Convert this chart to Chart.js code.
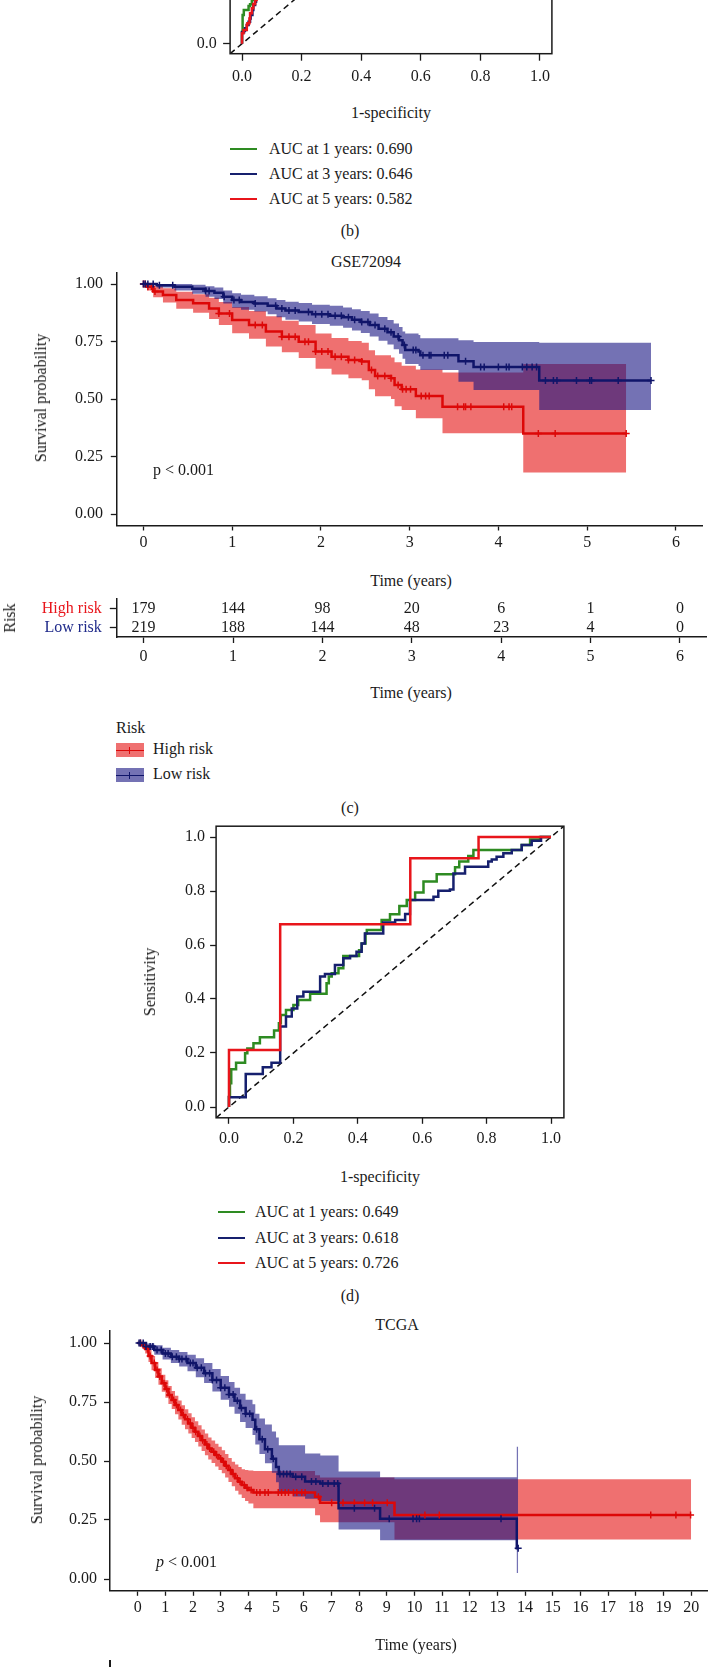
<!DOCTYPE html>
<html><head><meta charset="utf-8">
<script src="https://cdn.jsdelivr.net/npm/chart.js@4.4.1/dist/chart.umd.min.js"></script>
<style>
html,body{margin:0;padding:0;background:#fff;}
body{width:708px;height:1667px;position:relative;overflow:hidden;font-family:'Liberation Serif','Times New Roman',serif;color:#1a1a1a;}
canvas{position:absolute;left:0;}
.t{position:absolute;white-space:nowrap;font-size:16px;line-height:16px;}
.k{position:absolute;}
</style></head><body>
<script>
// ---------------- DATA ----------------
// ROC (b): [1-specificity, sensitivity] corners (visible lower part only)
const rocB_1y = [[0,0],[0.002,0.048],[0.006,0.115],[0.022,0.135],[0.027,0.151],[0.033,0.158],[0.036,0.175],[0.04,0.2]];
const rocB_3y = [[0,0],[0.007,0.046],[0.010,0.052],[0.016,0.062],[0.022,0.075],[0.027,0.088],[0.029,0.101],[0.035,0.115],[0.038,0.135],[0.044,0.155],[0.047,0.168],[0.052,0.2]];
const rocB_5y = [[0,0],[0.005,0.042],[0.016,0.055],[0.018,0.075],[0.025,0.082],[0.027,0.101],[0.033,0.122],[0.038,0.142],[0.044,0.159],[0.049,0.175],[0.056,0.2]];
const rocB_legend = ['AUC at 1 years: 0.690','AUC at 3 years: 0.646','AUC at 5 years: 0.582'];

// ROC (d)
const rocD_1y = [[0,0],[0.003,0.038],[0.007,0.088],[0.022,0.140],[0.050,0.164],[0.057,0.199],[0.076,0.217],[0.096,0.236],[0.140,0.258],[0.155,0.283],[0.161,0.310],[0.177,0.341],[0.200,0.359],[0.215,0.378],[0.252,0.396],[0.303,0.419],[0.310,0.458],[0.319,0.483],[0.340,0.495],[0.355,0.514],[0.404,0.559],[0.412,0.581],[0.424,0.606],[0.428,0.643],[0.474,0.656],[0.500,0.693],[0.529,0.714],[0.552,0.744],[0.578,0.767],[0.604,0.794],[0.645,0.835],[0.702,0.862],[0.715,0.888],[0.743,0.909],[0.759,0.930],[0.909,0.952],[0.935,0.970],[0.966,0.991],[1,1]];
const rocD_3y = [[0,0],[0.052,0.036],[0.105,0.122],[0.132,0.147],[0.159,0.164],[0.177,0.298],[0.195,0.335],[0.212,0.365],[0.231,0.409],[0.283,0.427],[0.298,0.483],[0.329,0.493],[0.355,0.526],[0.376,0.551],[0.396,0.559],[0.412,0.575],[0.422,0.606],[0.479,0.643],[0.516,0.683],[0.547,0.693],[0.562,0.715],[0.635,0.767],[0.650,0.779],[0.686,0.801],[0.697,0.806],[0.733,0.865],[0.805,0.890],[0.816,0.909],[0.831,0.917],[0.852,0.927],[0.878,0.940],[0.909,0.952],[0.940,0.970],[0.969,0.986],[1,1]];
const rocD_5y = [[0,0],[0.159,0.211],[0.563,0.677],[0.775,0.921],[1,1]];
const rocD_legend = ['AUC at 1 years: 0.649','AUC at 3 years: 0.618','AUC at 5 years: 0.726'];
const rocTicks = [0,0.2,0.4,0.6,0.8,1.0];
const rocTickLabels = ['0.0','0.2','0.4','0.6','0.8','1.0'];

// GSE72094 Kaplan-Meier
const gseHighTime  = [0,0.04,0.11,0.22,0.37,0.56,0.74,0.85,1.0,1.19,1.38,1.56,1.75,1.94,2.12,2.31,2.46,2.54,2.61,2.79,2.83,2.91,3.07,3.37,4.28,5.44];
const gseHighSurv  = [1,0.988,0.967,0.952,0.93,0.916,0.894,0.872,0.843,0.822,0.793,0.771,0.749,0.707,0.684,0.67,0.663,0.626,0.6,0.59,0.561,0.542,0.513,0.466,0.35,0.35];
const gseHighUpper = [1,1.0,0.99,0.982,0.966,0.955,0.94,0.922,0.9,0.883,0.86,0.84,0.822,0.785,0.765,0.752,0.745,0.712,0.69,0.68,0.66,0.645,0.628,0.615,0.652,0.652];
const gseHighLower = [1,0.972,0.942,0.92,0.892,0.875,0.848,0.822,0.786,0.762,0.728,0.703,0.678,0.632,0.606,0.59,0.582,0.542,0.512,0.5,0.468,0.452,0.416,0.351,0.18,0.18];
const gseHighCensor = [0,0.02,0.05,0.09,0.13,0.85,0.97,1.26,1.34,1.56,1.64,1.71,1.82,1.86,1.94,2.01,2.08,2.16,2.23,2.31,2.38,2.46,2.57,2.64,2.72,2.79,2.87,2.92,2.96,3.01,3.13,3.18,3.22,3.54,3.61,3.63,3.69,4.06,4.12,4.15,4.45,4.64,5.44];

const gseLowTime  = [0,0.15,0.35,0.55,0.7,0.8,0.9,1.0,1.1,1.25,1.4,1.5,1.6,1.75,1.9,2.1,2.25,2.35,2.45,2.55,2.65,2.75,2.82,2.88,2.92,2.95,3.1,3.12,3.55,3.72,4.46,5.72];
const gseLowSurv  = [1,0.995,0.988,0.979,0.97,0.962,0.945,0.93,0.922,0.915,0.905,0.893,0.885,0.878,0.868,0.862,0.855,0.845,0.835,0.822,0.805,0.79,0.772,0.755,0.735,0.713,0.706,0.69,0.664,0.639,0.58,0.58];
const gseLowUpper = [1,1.0,1.0,0.997,0.99,0.985,0.972,0.96,0.953,0.947,0.938,0.93,0.923,0.917,0.91,0.905,0.898,0.89,0.883,0.872,0.857,0.843,0.828,0.813,0.793,0.785,0.778,0.764,0.755,0.748,0.745,0.745];
const gseLowLower = [1,0.985,0.972,0.958,0.945,0.935,0.915,0.897,0.888,0.88,0.868,0.855,0.845,0.837,0.826,0.819,0.81,0.798,0.787,0.772,0.753,0.737,0.716,0.697,0.675,0.652,0.644,0.626,0.575,0.539,0.452,0.452];
const gseLowCensor = [0,0.02,0.05,0.11,0.18,0.33,0.70,0.74,0.91,1.02,1.08,1.26,1.49,1.56,1.64,1.71,1.86,1.94,2.01,2.08,2.16,2.23,2.31,2.38,2.46,2.53,2.61,2.72,2.79,2.87,2.94,3.04,3.07,3.15,3.22,3.24,3.39,3.43,3.63,3.80,3.84,4.0,4.09,4.12,4.27,4.32,4.38,4.43,4.53,4.62,4.66,4.88,5.03,5.05,5.35,5.72];

const gseXTicks = [0,1,2,3,4,5,6];
const gseXTickLabels = ['0','1','2','3','4','5','6'];
const kmYTicks = [0,0.25,0.5,0.75,1];
const kmYTickLabels = ['0.00','0.25','0.50','0.75','1.00'];

// number at risk (GSE72094)
const riskGroups = ['High risk','Low risk'];
const riskTimes = [0,1,2,3,4,5,6];
const riskHigh = [179,144,98,20,6,1,0];
const riskLow  = [219,188,144,48,23,4,0];

// TCGA Kaplan-Meier
const tcgaHighTime  = [0,0.15,0.27,0.39,0.5,0.63,0.75,0.87,1.0,1.11,1.23,1.35,1.47,1.59,1.71,1.83,1.95,2.07,2.19,2.31,2.43,2.55,2.67,2.8,2.92,3.04,3.16,3.28,3.4,3.52,3.64,3.76,3.88,4.0,4.18,6.41,6.59,9.28,20.0];
const tcgaHighSurv  = [1,0.99,0.975,0.945,0.915,0.886,0.858,0.829,0.805,0.78,0.758,0.737,0.716,0.695,0.677,0.659,0.641,0.624,0.606,0.588,0.57,0.553,0.539,0.525,0.511,0.497,0.48,0.462,0.445,0.427,0.412,0.398,0.387,0.377,0.366,0.349,0.323,0.271,0.271];
const tcgaHighUpper = [1,1.0,0.99,0.97,0.945,0.92,0.893,0.865,0.842,0.818,0.797,0.776,0.756,0.736,0.719,0.702,0.685,0.668,0.651,0.634,0.616,0.6,0.587,0.573,0.56,0.546,0.53,0.513,0.497,0.485,0.475,0.465,0.462,0.46,0.458,0.44,0.43,0.423,0.423];
const tcgaHighLower = [1,0.98,0.955,0.92,0.885,0.852,0.823,0.793,0.768,0.742,0.72,0.698,0.676,0.654,0.635,0.616,0.597,0.58,0.561,0.542,0.524,0.506,0.491,0.477,0.462,0.448,0.43,0.411,0.393,0.374,0.358,0.343,0.331,0.32,0.30,0.27,0.24,0.167,0.167];
const tcgaHighCensor = [0.1,0.2,0.35,0.45,0.6,0.7,0.8,0.95,1.05,1.15,1.3,1.4,1.55,1.65,1.8,1.9,2.0,2.1,2.25,2.35,2.5,2.6,2.75,2.85,3.0,3.1,3.2,3.35,3.45,3.6,3.7,3.85,3.95,4.1,4.3,4.42,4.6,4.72,5.08,5.2,5.33,5.45,5.63,5.75,5.93,6.05,6.53,7.01,7.42,7.83,8.2,8.49,9.02,10.38,10.9,18.54,19.45,19.98];

const tcgaLowTime  = [0,0.3,0.6,0.9,1.2,1.5,1.8,2.1,2.4,2.7,3.0,3.3,3.5,3.7,3.9,4.15,4.25,4.4,4.6,4.85,5.0,5.1,5.6,6.05,6.6,7.26,8.76,13.7,13.75];
const tcgaLowSurv  = [1,0.985,0.97,0.955,0.942,0.932,0.915,0.895,0.872,0.843,0.81,0.782,0.755,0.725,0.70,0.675,0.635,0.592,0.55,0.51,0.475,0.445,0.433,0.413,0.405,0.30,0.255,0.13,0.13];
const tcgaLowUpper = [1,0.998,0.99,0.98,0.97,0.962,0.95,0.935,0.915,0.89,0.86,0.835,0.81,0.785,0.76,0.74,0.70,0.68,0.655,0.625,0.60,0.567,0.567,0.532,0.523,0.455,0.431,0.56,0.56];
const tcgaLowLower = [1,0.97,0.95,0.93,0.915,0.90,0.88,0.855,0.83,0.795,0.76,0.73,0.70,0.665,0.64,0.61,0.57,0.53,0.49,0.45,0.41,0.37,0.35,0.34,0.33,0.21,0.164,0.025,0.025];
const tcgaLowCensor = [0.05,0.1,0.2,0.3,0.45,0.55,0.7,0.85,1.0,1.1,1.25,1.4,1.5,1.6,1.75,1.9,2.0,2.15,2.3,2.45,2.6,2.7,2.85,3.0,3.15,3.3,3.45,3.6,3.75,3.9,4.05,4.3,4.5,4.7,4.9,5.14,5.27,5.39,5.51,5.71,5.93,6.28,6.44,6.69,6.88,7.1,7.23,7.83,8.56,9.09,9.95,10.08,10.18,13.13,13.75];

const tcgaXTicks = [0,1,2,3,4,5,6,7,8,9,10,11,12,13,14,15,16,17,18,19,20];
const tcgaXTickLabels = tcgaXTicks.map(String);

// ---------------- STYLE ----------------
const FONT = "'Liberation Serif','Times New Roman',serif";
const INK = '#1a1a1a';
const C_GREEN = '#2E8B22', C_NAVY = '#16206E', C_RED = '#E8151B';
const KM_RED = '#DD0808', KM_NAVY = '#10156A';
const BAND_RED = 'rgba(227,0,0,0.56)', BAND_NAVY = 'rgba(23,20,130,0.6)';

Chart.defaults.font.family = FONT;
Chart.defaults.font.size = 16;
Chart.defaults.color = INK;
Chart.defaults.animation = false;
Chart.defaults.responsive = false;
Chart.defaults.maintainAspectRatio = false;
Chart.defaults.devicePixelRatio = 1;
Chart.defaults.events = [];

function makeCanvas(top, width, height){
  const c = document.createElement('canvas');
  c.width = width; c.height = height;
  c.style.top = top+'px'; c.style.width = width+'px'; c.style.height = height+'px';
  document.body.appendChild(c);
  return c;
}
function linScale(min, max, ticks, labels, tickLen, pad, border){
  return {type:'linear', min, max,
    afterBuildTicks: s => { s.ticks = ticks.map(v => ({value:v})); },
    ticks:{callback:(v,i)=>labels[i], padding:pad, autoSkip:false, maxRotation:0, minRotation:0, color:INK, font:{size:16, family:FONT}},
    grid:{display:true, drawOnChartArea:false, drawTicks:true, tickLength:tickLen, tickColor:INK, tickWidth:1.3},
    border:{display:border, color:INK, width:1.5}};
}
function buildChart({top, width=708, height, area, yAxisW, xAxisH, datasets, x, y, plugins=[]}){
  const canvas = makeCanvas(top, width, height);
  const padding = {left: area.left - yAxisW, right: width - area.right, top: area.top - top, bottom: top + height - area.bottom - xAxisH};
  x.afterFit = s => { s.height = xAxisH; s.paddingLeft=0; s.paddingRight=0; s.paddingTop=0; s.paddingBottom=0; };
  y.afterFit = s => { s.width = yAxisW; s.paddingTop=0; s.paddingBottom=0; s.paddingLeft=0; s.paddingRight=0; };
  return new Chart(canvas, {type:'line', data:{datasets},
    options:{layout:{padding}, scales:{x, y}, plugins:{legend:{display:false}, tooltip:{enabled:false}}},
    plugins});
}
const boxPlugin = {id:'box', afterDatasetsDraw(chart){
  const a = chart.chartArea, ctx = chart.ctx;
  ctx.save(); ctx.strokeStyle = INK; ctx.lineWidth = 1.5;
  ctx.strokeRect(a.left, a.top, a.right-a.left, a.bottom-a.top); ctx.restore();
}};
function rocLine(pts, color, order){
  return {data: pts.map(p=>({x:p[0], y:p[1]})), borderColor:color, borderWidth:2.5, stepped:'after', pointRadius:0, fill:false, order};
}
function diag(){
  return {data:[{x:-0.04,y:-0.04},{x:1.04,y:1.04}], borderColor:'#111', borderWidth:1.5, borderDash:[6,4], pointRadius:0, fill:false, order:10};
}
function survAt(times, surv, t){ let s = surv[0]; for (let i=0;i<times.length;i++){ if (times[i] <= t) s = surv[i]; } return s; }
function kmSets(times, surv, lower, upper, censor, lineColor, bandColor, ord){
  const pts = arr => times.map((t,i)=>({x:t, y:arr[i]}));
  return [
    {data:pts(lower), borderWidth:0, borderColor:'transparent', pointRadius:0, stepped:true, fill:false, order:ord+20},
    {data:pts(upper), borderWidth:0, borderColor:'transparent', pointRadius:0, stepped:true, fill:'-1', backgroundColor:bandColor, order:ord+20},
    {data:pts(surv), borderColor:lineColor, borderWidth:2.5, pointRadius:0, stepped:true, fill:false, order:ord+10},
    {data:censor.map(t=>({x:t, y:survAt(times, surv, t)})), showLine:false, pointStyle:'cross', pointRadius:3.5, pointBorderColor:lineColor, pointBorderWidth:1.5, pointBackgroundColor:lineColor, order:ord}
  ];
}
function txt(s, x, y, o={}){
  const d = document.createElement('div'); d.className='t';
  if (o.html) d.innerHTML = s; else d.textContent = s;
  d.style.left = x+'px'; d.style.top = y+'px';
  if (o.color) d.style.color = o.color;
  const tx = o.align==='left' ? '0' : '-50%';
  d.style.transform = `translate(${tx},-50%)` + (o.rotate ? ` rotate(${o.rotate}deg)` : '');
  document.body.appendChild(d); return d;
}
function box(x, y, w, h, bg){
  const d = document.createElement('div'); d.className='k';
  d.style.left=x+'px'; d.style.top=y+'px'; d.style.width=w+'px'; d.style.height=h+'px'; d.style.background=bg;
  document.body.appendChild(d); return d;
}

// ---------------- (b) ROC ----------------
buildChart({top:-240, height:340, area:{left:230.1, right:551.9, top:-216.3, bottom:53.7}, yAxisW:60, xAxisH:40,
  datasets:[rocLine(rocB_5y, C_RED, 1), rocLine(rocB_3y, C_NAVY, 2), rocLine(rocB_1y, C_GREEN, 3), diag()],
  x: linScale(-0.04, 1.04, rocTicks, rocTickLabels, 7, 6.7, false),
  y: linScale(-0.04, 1.04, rocTicks, rocTickLabels, 7, 6.4, false),
  plugins:[boxPlugin]});
txt('1-specificity', 391, 113);
[C_GREEN, C_NAVY, C_RED].forEach((c,i)=>{ const yy = [149,174,199][i]; box(230, yy-1, 27, 2, c); txt(rocB_legend[i], 269, yy, {align:'left'}); });
txt('(b)', 350, 231);

// ---------------- (c) GSE72094 KM ----------------
txt('GSE72094', 366, 262);
buildChart({top:265, height:300, area:{left:116.8, right:706.8, top:272.5, bottom:525.5}, yAxisW:60, xAxisH:35,
  datasets:[...kmSets(gseHighTime, gseHighSurv, gseHighLower, gseHighUpper, gseHighCensor, KM_RED, BAND_RED, 2),
            ...kmSets(gseLowTime, gseLowSurv, gseLowLower, gseLowUpper, gseLowCensor, KM_NAVY, BAND_NAVY, 1)],
  x: linScale(-0.3, 6.3, gseXTicks, gseXTickLabels, 5, 2.9, true),
  y: linScale(-0.05, 1.05, kmYTicks, kmYTickLabels, 6, 7.8, true)});
txt('Survival probability', 41, 398, {rotate:-90});
txt('p &lt; 0.001', 153, 470, {align:'left', html:true});
txt('Time (years)', 411, 581);

// risk table
const riskNumbers = {id:'riskNumbers', afterDatasetsDraw(chart){
  const {ctx, scales:{x, y}} = chart;
  ctx.save(); ctx.font = `16px ${FONT}`; ctx.fillStyle = INK; ctx.textAlign='center'; ctx.textBaseline='middle';
  riskTimes.forEach((t,i)=>{
    ctx.fillText(String(riskHigh[i]), x.getPixelForValue(t), y.getPixelForValue(0));
    ctx.fillText(String(riskLow[i]), x.getPixelForValue(t), y.getPixelForValue(1));
  });
  ctx.restore();
}};
const riskY = {type:'category', labels:riskGroups, offset:true,
  ticks:{padding:8, autoSkip:false, color:c => c.index===0 ? C_RED : '#1F2A8A', font:{size:16, family:FONT}},
  grid:{display:true, drawOnChartArea:false, drawTicks:true, tickLength:7, tickColor:INK, tickWidth:1.3, offset:false},
  border:{display:true, color:INK, width:1.5}};
buildChart({top:590, height:80, area:{left:116.8, right:706.8, top:599, bottom:637}, yAxisW:100, xAxisH:30,
  datasets:[{data:[], pointRadius:0}],
  x: linScale(-0.3, 6.3, gseXTicks, gseXTickLabels, 6, 4.4, true),
  y: riskY, plugins:[riskNumbers]});
txt('Risk', 10, 618, {rotate:-90});
txt('Time (years)', 411, 693);

// KM legend
txt('Risk', 116, 728, {align:'left'});
[[BAND_RED, KM_RED, 'High risk', 750.3], [BAND_NAVY, KM_NAVY, 'Low risk', 775.3]].forEach(([bg, lc, lab, yy])=>{
  box(115.5, yy-7, 28, 14, bg);
  box(115.5, yy-0.75, 28, 1.5, lc);
  box(128.8, yy-3.5, 1.3, 7, lc);
  txt(lab, 153, yy-1.5, {align:'left'});
});
txt('(c)', 350, 808);

// ---------------- (d) ROC ----------------
buildChart({top:800, height:360, area:{left:216.1, right:563.9, top:826.2, bottom:1117.8}, yAxisW:60, xAxisH:40,
  datasets:[rocLine(rocD_5y, C_RED, 1), rocLine(rocD_3y, C_NAVY, 2), rocLine(rocD_1y, C_GREEN, 3), diag()],
  x: linScale(-0.04, 1.04, rocTicks, rocTickLabels, 6, 5.6, false),
  y: linScale(-0.04, 1.04, rocTicks, rocTickLabels, 6, 5, false),
  plugins:[boxPlugin]});
txt('Sensitivity', 150, 982, {rotate:-90});
txt('1-specificity', 380, 1177);
[C_GREEN, C_NAVY, C_RED].forEach((c,i)=>{ const yy = [1212,1238,1263][i]; box(218, yy-1, 27, 2, c); txt(rocD_legend[i], 255, yy, {align:'left'}); });
txt('(d)', 350, 1296);

// ---------------- TCGA KM ----------------
txt('TCGA', 397, 1325);
buildChart({top:1320, width:730, height:320, area:{left:110, right:718.8, top:1331.2, bottom:1590.8}, yAxisW:60, xAxisH:38,
  datasets:[...kmSets(tcgaHighTime, tcgaHighSurv, tcgaHighLower, tcgaHighUpper, tcgaHighCensor, KM_RED, BAND_RED, 2),
            ...kmSets(tcgaLowTime, tcgaLowSurv, tcgaLowLower, tcgaLowUpper, tcgaLowCensor, KM_NAVY, BAND_NAVY, 1)],
  x: linScale(-1, 21, tcgaXTicks, tcgaXTickLabels, 5, 2.6, true),
  y: linScale(-0.05, 1.05, kmYTicks, kmYTickLabels, 6, 7, true)});
txt('Survival probability', 37, 1460, {rotate:-90});
txt('<i>p</i> &lt; 0.001', 156, 1562, {align:'left', html:true});
txt('Time (years)', 416, 1645);
box(109.3, 1660, 1.5, 7, INK);
</script></body></html>
